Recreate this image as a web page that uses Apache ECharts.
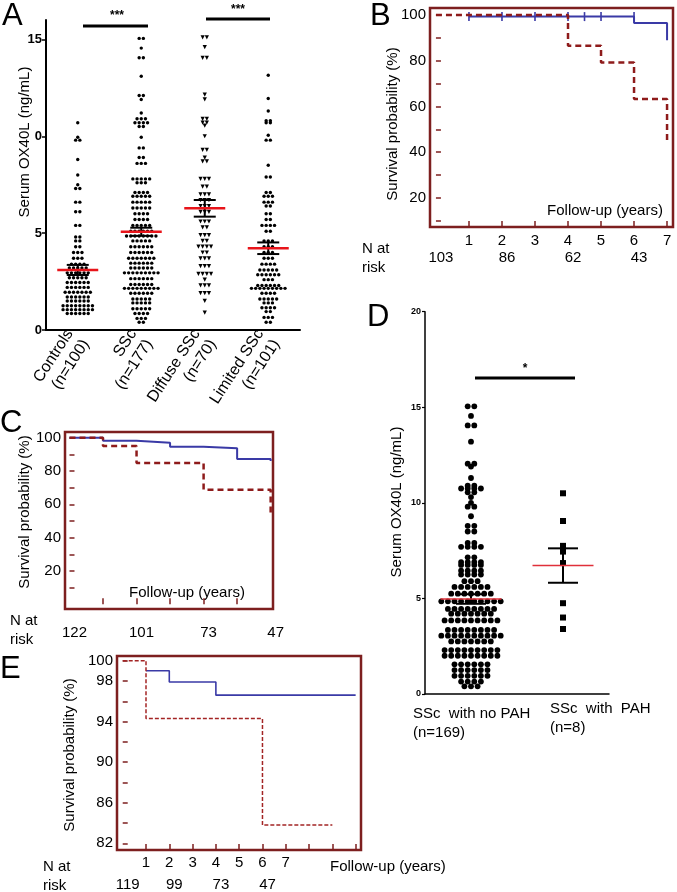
<!DOCTYPE html>
<html>
<head>
<meta charset="utf-8">
<script src="https://cdn.jsdelivr.net/npm/echarts@6/dist/echarts.min.js"></script>
<style>
html, body { margin: 0; padding: 0; background: #fff; }
#chart { width: 677px; height: 892px; }
</style>
</head>
<body>
<div id="chart"></div>
<script>
var FONT = '"Liberation Sans", Arial, sans-serif';
var BOX = '#7d1f1f', RED = '#8e1b1b', BLUE = '#3a3aa6';

// ---- panel A: serum OX40L by group (rows of the dot plot: [value, count])
var groupNames = ['Controls', 'SSc', 'Diffuse SSc', 'Limited SSc'];
var groupN = [100, 177, 70, 101];
var controlsRows = [[10.7,1],[9.95,1],[9.8,2],[8.8,1],[8.0,1],[7.5,1],[7.3,2],[6.6,2],[6.1,2],[5.4,2],[4.8,2],[4.6,2],[4.3,2],[4.0,3],[3.7,3],[3.4,4],[3.2,5],[2.95,6],[2.7,5],[2.45,6],[2.2,6],[1.95,7],[1.7,6],[1.5,6],[1.25,8],[1.05,8],[0.85,6]];
var sscRows = [[15.05,2],[14.55,1],[14.05,2],[13.1,1],[12.1,2],[11.9,1],[11.2,1],[10.9,3],[10.7,4],[10.5,2],[9.95,1],[9.4,2],[8.9,2],[8.6,3],[7.8,5],[7.6,3],[7.1,4],[6.9,5],[6.6,5],[6.3,5],[6.0,4],[5.7,4],[5.4,5],[5.1,6],[4.85,8],[4.6,5],[4.3,6],[4.0,6],[3.7,7],[3.45,6],[3.2,6],[2.95,9],[2.65,6],[2.35,6],[2.15,9],[1.9,6],[1.6,5],[1.4,5],[1.1,5],[0.85,4],[0.6,3],[0.4,2]];
var diffuseRows = [[15.1,2],[14.6,1],[14.05,2],[12.15,1],[11.9,1],[10.9,2],[10.7,2],[10.55,1],[10.0,1],[9.3,2],[8.9,1],[8.7,2],[7.8,3],[7.4,2],[7.0,3],[6.7,3],[6.4,3],[6.1,3],[5.6,3],[5.3,2],[4.9,3],[4.6,2],[4.3,4],[4.0,2],[3.7,3],[3.3,3],[2.9,4],[2.6,1],[2.3,3],[1.9,3],[1.5,1],[0.9,1]];
var limitedRows = [[13.15,1],[11.95,1],[11.3,1],[10.8,2],[10.7,2],[10.05,1],[9.8,2],[8.5,1],[7.9,2],[7.1,2],[6.9,3],[6.6,3],[6.4,2],[6.0,2],[5.7,2],[5.4,4],[5.1,2],[4.6,3],[4.3,3],[4.0,3],[3.7,3],[3.4,4],[3.1,5],[2.85,6],[2.6,3],[2.3,6],[2.15,9],[1.9,4],[1.6,5],[1.4,3],[1.15,4],[0.95,2],[0.65,3],[0.4,2]];
var groupMeans = [3.1, 5.07, 6.28, 4.22];
var groupSems = [0.26, 0.21, 0.43, 0.3];

// ---- panel D: PAH vs no PAH
var pahNames = ['SSc  with no PAH', 'SSc  with  PAH'];
var pahN = [169, 8];
var noPahRows = [[15.05,2],[14.55,1],[14.05,2],[13.2,1],[12.05,2],[11.9,1],[11.3,1],[10.9,2],[10.75,4],[10.55,2],[10.3,1],[10.0,1],[9.8,2],[9.3,1],[8.8,2],[8.5,2],[7.9,2],[7.7,4],[7.15,2],[6.9,4],[6.75,4],[6.45,4],[6.25,4],[5.9,3],[5.6,6],[5.25,7],[4.85,10],[4.45,8],[4.2,7],[3.85,9],[3.35,8],[3.05,10],[2.75,7],[2.3,9],[2.0,9],[1.55,6],[1.25,6],[0.95,6],[0.65,4],[0.4,3]];
var pahValues = [10.5, 9.05, 7.75, 7.45, 6.85, 4.75, 4.0, 3.4];
var pahMeans = [4.97, 6.72];
var pahSems = [0.25, 0.9];

// ---- panel B: survival
var bYears = [1, 2, 3, 4, 5, 6, 7];
var bRiskYears = [0, 2, 4, 6];
var bRisk = [103, 86, 62, 43];
var bBlueT = [1, 6, 7, 7];
var bBlueS = [99.3, 96.5, 96.5, 89];
var bRedT = [0, 4, 5, 6, 7, 7];
var bRedS = [100, 86.6, 79.2, 63.3, 63.3, 44.7];
var bCensorT = [1, 2, 3, 4, 4.5, 5, 6];

// ---- panel C: survival
var cRiskYears = [0, 2, 4, 6];
var cRisk = [122, 101, 73, 47];
var cBlueT = [0, 1, 2, 3, 4, 5, 6, 6];
var cBlueS = [100, 98.2, 97, 94.6, 93.6, 87.2, 87.2, 86];
var cRedT = [0, 1, 2, 4, 6, 6];
var cRedS = [100, 95, 84.8, 68.8, 68.8, 54.8];

// ---- panel E: survival
var eYears = [1, 2, 3, 4, 5, 6, 7];
var eRiskYears = [0, 2, 4, 6];
var eRisk = [119, 99, 73, 47];
var eBlueT = [1, 2, 4, 10];
var eBlueS = [99, 97.9, 96.6, 96.6];
var eRedT = [0, 1, 6, 9];
var eRedS = [100, 94.3, 83.8, 83.8];

function zip(a, b) { return a.map(function (v, i) { return [v, b[i]]; }); }
function swarm(rows, center, gapPx, pxPerUnit) {
    var pts = [];
    rows.forEach(function (r) {
        for (var i = 0; i < r[1]; i++) {
            pts.push([center + (i - (r[1] - 1) / 2) * gapPx / pxPerUnit, r[0]]);
        }
    });
    return pts;
}
function errBars(halfMean, halfCap, redColor, redWidth) {
    return function (params, api) {
        var c = api.value(0), m = api.value(1), s = api.value(2);
        var pm = api.coord([c, m]), pt = api.coord([c, m + s]), pb = api.coord([c, m - s]);
        var blk = { stroke: '#000', lineWidth: 2 };
        return {
            type: 'group', children: [
                { type: 'line', shape: { x1: pt[0], y1: pt[1], x2: pb[0], y2: pb[1] }, style: blk },
                { type: 'line', shape: { x1: pt[0] - halfCap, y1: pt[1], x2: pt[0] + halfCap, y2: pt[1] }, style: blk },
                { type: 'line', shape: { x1: pb[0] - halfCap, y1: pb[1], x2: pb[0] + halfCap, y2: pb[1] }, style: blk },
                { type: 'line', shape: { x1: pm[0] - halfMean, y1: pm[1], x2: pm[0] + halfMean, y2: pm[1] }, style: { stroke: redColor, lineWidth: redWidth } }
            ]
        };
    };
}
function riskFmt(years, vals) {
    return function (v) {
        for (var i = 0; i < years.length; i++) if (Math.abs(years[i] - v) < 1e-6) return vals[i];
        return '';
    };
}
function boxAxisX(grid, min, max, ticks, labels, margin) {
    return {
        gridIndex: grid, type: 'value', position: 'bottom', min: min, max: max,
        axisLine: { show: false }, splitLine: { show: false },
        axisTick: { inside: true, length: 6, customValues: ticks, lineStyle: { color: BOX, width: 1.5 } },
        axisLabel: { show: labels.length > 0, customValues: labels, margin: margin, fontFamily: FONT, fontSize: 15, color: '#000' }
    };
}
function riskAxis(grid, min, max, years, vals, margin) {
    return {
        gridIndex: grid, type: 'value', position: 'bottom', min: min, max: max,
        axisLine: { show: false }, splitLine: { show: false }, axisTick: { show: false },
        axisLabel: { customValues: years, formatter: riskFmt(years, vals), margin: margin, padding: [0, 0, 0, 10], fontFamily: FONT, fontSize: 15, color: '#000' }
    };
}
function boxAxisY(grid, min, max, ticks, labels) {
    return {
        gridIndex: grid, type: 'value', min: min, max: max,
        axisLine: { show: false }, splitLine: { show: false },
        axisTick: { inside: true, length: 5, customValues: ticks, lineStyle: { color: BOX, width: 1.5 } },
        axisLabel: { customValues: labels, margin: 4, fontFamily: FONT, fontSize: 15, color: '#000' }
    };
}
function stepLine(xi, yi, data, color, width, dash) {
    return {
        type: 'line', xAxisIndex: xi, yAxisIndex: yi, data: data, step: 'end',
        symbol: 'none', lineStyle: { color: color, width: width, type: dash || 'solid' }, z: dash ? 4 : 3
    };
}
var dot = { color: '#000', opacity: 1 };

var chart = echarts.init(document.getElementById('chart'));
var boxGrid = { show: true, borderColor: BOX, borderWidth: 2.5, backgroundColor: 'transparent' };

var option = {
    animation: false,
    grid: [
        { left: 46, top: 20, width: 254, height: 310 },
        Object.assign({ left: 430, top: 8, width: 243, height: 219 }, boxGrid),
        Object.assign({ left: 65, top: 432, width: 208, height: 177 }, boxGrid),
        { left: 425, top: 311.7, width: 184, height: 382.3 },
        Object.assign({ left: 117, top: 656, width: 244, height: 194 }, boxGrid)
    ],
    xAxis: [
        {
            gridIndex: 0, type: 'category', position: 'bottom',
            data: groupNames.map(function (g, i) { return g + '\n(n=' + groupN[i] + ')'; }),
            axisLine: { lineStyle: { color: '#000', width: 2 } },
            axisTick: { alignWithLabel: true, length: 4, lineStyle: { color: '#000', width: 1.5 } },
            axisLabel: { interval: 0, rotate: 57, margin: 6, fontFamily: FONT, fontSize: 16, color: '#000', lineHeight: 19 }
        },
        { gridIndex: 0, type: 'value', position: 'bottom', min: 0, max: 4, show: false },
        boxAxisX(1, -0.18, 7.18, bYears, bYears, 6),
        riskAxis(1, -0.18, 7.18, bRiskYears, bRisk, 23),
        boxAxisX(2, -0.134, 6.07, [1, 2, 3, 4, 5], [], 6),
        riskAxis(2, -0.134, 6.07, cRiskYears, cRisk, 16),
        {
            gridIndex: 3, type: 'category', position: 'bottom', data: pahNames,
            axisLine: { lineStyle: { color: '#000', width: 1.5 } },
            axisTick: { alignWithLabel: true, length: 4, lineStyle: { color: '#000', width: 1.5 } },
            axisLabel: { show: false }
        },
        { gridIndex: 3, type: 'value', position: 'bottom', min: 0, max: 2, show: false },
        boxAxisX(4, -0.245, 10.23, [1, 2, 3, 4, 5, 6, 7, 8, 9, 10], eYears, 5),
        riskAxis(4, -0.245, 10.23, eRiskYears, eRisk, 27)
    ],
    yAxis: [
        {
            gridIndex: 0, type: 'value', min: 0, max: 16,
            axisLine: { show: true, lineStyle: { color: '#000', width: 2 } },
            axisTick: { show: true, length: 4, customValues: [0, 5, 10, 15], lineStyle: { color: '#000', width: 1.5 } },
            axisLabel: {
                customValues: [0, 5, 10, 15], margin: 4, fontFamily: FONT, fontSize: 13, fontWeight: 'bold', color: '#000',
                formatter: function (v) { return v === 10 ? '0' : String(v); }
            },
            splitLine: { show: false }
        },
        boxAxisY(1, 7.32, 103.06, [10, 20, 30, 40, 50, 60, 70, 80, 90, 100], [20, 40, 60, 80, 100]),
        boxAxisY(2, -2.8, 103.4, [10, 20, 30, 40, 50, 60, 70, 80, 90, 100], [20, 40, 60, 80, 100]),
        {
            gridIndex: 3, type: 'value', min: 0, max: 20, interval: 5,
            axisLine: { show: true, lineStyle: { color: '#000', width: 1.5 } },
            axisTick: { show: true, length: 3, lineStyle: { color: '#000', width: 1.2 } },
            axisLabel: { margin: 4, fontFamily: FONT, fontSize: 9, fontWeight: 'bold', color: '#000' },
            splitLine: { show: false }
        },
        boxAxisY(4, 81.34, 100.46, [82, 84, 86, 88, 90, 92, 94, 96, 98, 100], [82, 86, 90, 94, 98, 100])
    ],
    series: [
        { type: 'scatter', xAxisIndex: 1, yAxisIndex: 0, data: swarm(controlsRows, 0.5, 4.2, 63.5), symbol: 'circle', symbolSize: 3.4, itemStyle: dot },
        { type: 'scatter', xAxisIndex: 1, yAxisIndex: 0, data: swarm(sscRows, 1.5, 4.2, 63.5), symbol: 'circle', symbolSize: 3.4, itemStyle: dot },
        { type: 'scatter', xAxisIndex: 1, yAxisIndex: 0, data: swarm(diffuseRows, 2.5, 4.2, 63.5), symbol: 'triangle', symbolRotate: 180, symbolSize: 4.2, itemStyle: dot },
        { type: 'scatter', xAxisIndex: 1, yAxisIndex: 0, data: swarm(limitedRows, 3.5, 4.2, 63.5), symbol: 'circle', symbolSize: 3.4, itemStyle: dot },
        {
            type: 'custom', xAxisIndex: 1, yAxisIndex: 0, z: 5,
            data: groupMeans.map(function (m, i) { return [i + 0.5, m, groupSems[i]]; }),
            renderItem: errBars(20.5, 11, '#e8141a', 2.5)
        },

        stepLine(2, 1, zip(bBlueT, bBlueS), BLUE, 2),
        stepLine(2, 1, zip(bRedT, bRedS), RED, 2.5, [6, 4]),
        { type: 'scatter', xAxisIndex: 2, yAxisIndex: 1, data: bCensorT.map(function (t) { return [t, bBlueS[0]]; }), symbol: 'rect', symbolSize: [1.6, 9], itemStyle: { color: BLUE, opacity: 1 } },

        stepLine(4, 2, zip(cBlueT, cBlueS), BLUE, 2),
        stepLine(4, 2, zip(cRedT, cRedS), RED, 2.5, [6, 4]),

        { type: 'scatter', xAxisIndex: 7, yAxisIndex: 3, data: swarm(noPahRows, 0.5, 6.6, 92), symbol: 'circle', symbolSize: 5.8, itemStyle: dot },
        { type: 'scatter', xAxisIndex: 7, yAxisIndex: 3, data: pahValues.map(function (v) { return [1.5, v]; }), symbol: 'rect', symbolSize: 6, itemStyle: dot },
        {
            type: 'custom', xAxisIndex: 7, yAxisIndex: 3, z: 5,
            data: pahMeans.map(function (m, i) { return [i + 0.5, m, pahSems[i]]; }),
            renderItem: errBars(30.5, 15, '#e0303a', 1.5)
        },

        stepLine(8, 4, zip(eBlueT, eBlueS), BLUE, 1.6),
        stepLine(8, 4, zip(eRedT, eRedS), '#a32424', 1.5, [4, 2])
    ],
    graphic: [
        { type: 'text', x: 2, y: 1, style: { text: 'A', font: '31px ' + FONT, fill: '#000' } },
        { type: 'text', x: 370, y: 1, style: { text: 'B', font: '31px ' + FONT, fill: '#000' } },
        { type: 'text', x: 0, y: 408, style: { text: 'C', font: '31px ' + FONT, fill: '#000' } },
        { type: 'text', x: 367, y: 302, style: { text: 'D', font: '31px ' + FONT, fill: '#000' } },
        { type: 'text', x: 0, y: 654, style: { text: 'E', font: '31px ' + FONT, fill: '#000' } },

        { type: 'text', x: 25, y: 142, rotation: Math.PI / 2, style: { text: 'Serum OX40L (ng/mL)', font: '15px ' + FONT, fill: '#000', align: 'center', verticalAlign: 'middle' } },
        { type: 'text', x: 397, y: 502, rotation: Math.PI / 2, style: { text: 'Serum OX40L (ng/mL)', font: '15px ' + FONT, fill: '#000', align: 'center', verticalAlign: 'middle' } },
        { type: 'text', x: 393, y: 124, rotation: Math.PI / 2, style: { text: 'Survival probability (%)', font: '15px ' + FONT, fill: '#000', align: 'center', verticalAlign: 'middle' } },
        { type: 'text', x: 25, y: 512, rotation: Math.PI / 2, style: { text: 'Survival probability (%)', font: '15px ' + FONT, fill: '#000', align: 'center', verticalAlign: 'middle' } },
        { type: 'text', x: 70, y: 755, rotation: Math.PI / 2, style: { text: 'Survival probability (%)', font: '15px ' + FONT, fill: '#000', align: 'center', verticalAlign: 'middle' } },

        { type: 'text', x: 605, y: 211, style: { text: 'Follow-up (years)', font: '15px ' + FONT, fill: '#000', align: 'center', verticalAlign: 'middle' } },
        { type: 'text', x: 187, y: 593, style: { text: 'Follow-up (years)', font: '15px ' + FONT, fill: '#000', align: 'center', verticalAlign: 'middle' } },
        { type: 'text', x: 330, y: 867, style: { text: 'Follow-up (years)', font: '15px ' + FONT, fill: '#000', align: 'left', verticalAlign: 'middle' } },

        { type: 'text', x: 362, y: 249, style: { text: 'N at', font: '15px ' + FONT, fill: '#000', verticalAlign: 'middle' } },
        { type: 'text', x: 362, y: 268, style: { text: 'risk', font: '15px ' + FONT, fill: '#000', verticalAlign: 'middle' } },
        { type: 'text', x: 10, y: 621, style: { text: 'N at', font: '15px ' + FONT, fill: '#000', verticalAlign: 'middle' } },
        { type: 'text', x: 10, y: 640, style: { text: 'risk', font: '15px ' + FONT, fill: '#000', verticalAlign: 'middle' } },
        { type: 'text', x: 43, y: 867, style: { text: 'N at', font: '15px ' + FONT, fill: '#000', verticalAlign: 'middle' } },
        { type: 'text', x: 43, y: 886, style: { text: 'risk', font: '15px ' + FONT, fill: '#000', verticalAlign: 'middle' } },

        { type: 'line', shape: { x1: 83, y1: 26, x2: 148, y2: 26 }, style: { stroke: '#000', lineWidth: 3 } },
        { type: 'text', x: 117, y: 16, style: { text: '***', font: 'bold 12px ' + FONT, fill: '#000', align: 'center', verticalAlign: 'middle' } },
        { type: 'line', shape: { x1: 206, y1: 19, x2: 270, y2: 19 }, style: { stroke: '#000', lineWidth: 3 } },
        { type: 'text', x: 238, y: 10, style: { text: '***', font: 'bold 12px ' + FONT, fill: '#000', align: 'center', verticalAlign: 'middle' } },
        { type: 'line', shape: { x1: 475, y1: 378, x2: 575, y2: 378 }, style: { stroke: '#000', lineWidth: 3 } },
        { type: 'text', x: 525, y: 369, style: { text: '*', font: 'bold 12px ' + FONT, fill: '#000', align: 'center', verticalAlign: 'middle' } },

        { type: 'text', x: 413, y: 704, style: { text: pahNames[0] + '\n(n=' + pahN[0] + ')', font: '15px ' + FONT, fill: '#000', lineHeight: 19 } },
        { type: 'text', x: 550, y: 699, style: { text: pahNames[1] + '\n(n=' + pahN[1] + ')', font: '15px ' + FONT, fill: '#000', lineHeight: 19 } }
    ]
};
chart.setOption(option);
</script>
</body>
</html>
